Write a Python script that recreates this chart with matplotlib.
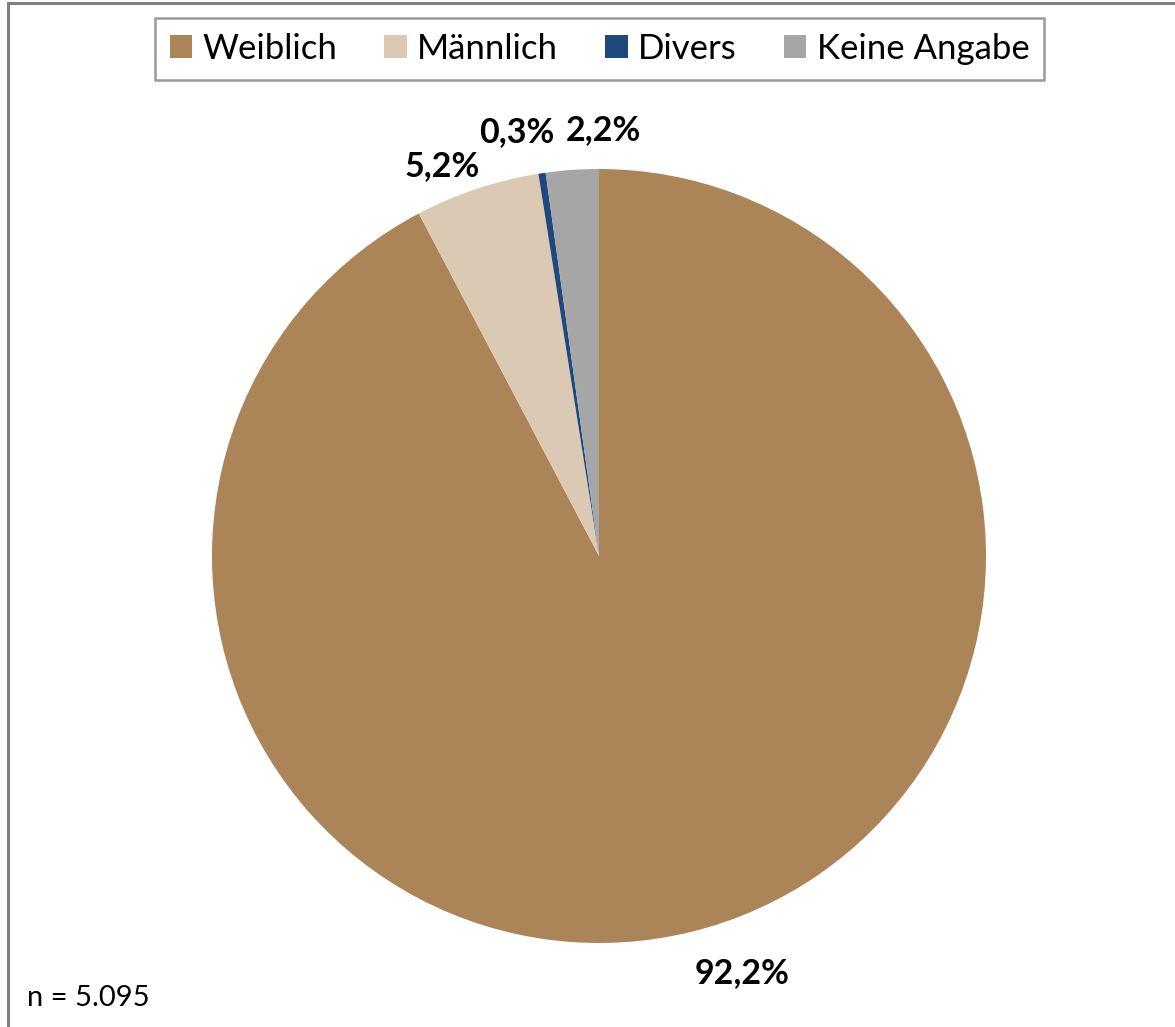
import numpy as np
import matplotlib.pyplot as plt
from matplotlib.lines import Line2D

plt.rcParams['font.family'] = ['Lato', 'DejaVu Sans']

# Gender distribution of respondents (percent)
categories = ['Weiblich', 'Männlich', 'Divers', 'Keine Angabe']
shares = [92.2, 5.2, 0.3, 2.2]
colors = ['#AB8558', '#DBC9B4', '#1F497D', '#A6A6A6']
sample_note = 'n = 5.095'

W, H = 1175, 1027
fig = plt.figure(figsize=(W / 100, H / 100), dpi=100)

# outer chart frame (left and top edges only)
fig.add_artist(Line2D([8 / W, 8 / W], [0, 1 - 3 / H], transform=fig.transFigure,
                      color='#808080', lw=2.2))
fig.add_artist(Line2D([8 / W, 1], [1 - 3 / H, 1 - 3 / H], transform=fig.transFigure,
                      color='#808080', lw=2.2))

# pie axes: centre (599, 556), radius 387 px
cx, cy, r = 599, 556, 387
ax = fig.add_axes([(cx - r) / W, (H - cy - r) / H, 2 * r / W, 2 * r / H])
wedges, _ = ax.pie(shares, colors=colors, startangle=90, counterclock=False,
                   radius=1.0, wedgeprops=dict(linewidth=0))
ax.set_xlim(-1, 1)
ax.set_ylim(-1, 1)
ax.set_aspect('equal')
ax.axis('off')

# value labels outside the slices: (angle nudge in degrees, radial distance)
label_place = [(5, 1.14), (3.5, 1.085), (2.5, 1.115), (-4.5, 1.10)]
for w, v, (nudge, dist) in zip(wedges, shares, label_place):
    mid = np.deg2rad((w.theta1 + w.theta2) / 2 + nudge)
    ax.text(dist * np.cos(mid), dist * np.sin(mid),
            f'{v:.1f}%'.replace('.', ','), ha='center', va='center',
            fontsize=24.5, fontweight='bold', color='black', clip_on=False)

leg = fig.legend(wedges, categories, loc='center', ncol=4,
                 bbox_to_anchor=(599.5 / W, 1 - 49 / H),
                 frameon=True, fancybox=False, edgecolor='#808080',
                 fontsize=25, handlelength=0.65, handleheight=0.65,
                 handletextpad=0.3, columnspacing=1.35, borderpad=0.42)
leg.get_frame().set_linewidth(1.8)

fig.text(27 / W, 1 - 998 / H, sample_note, fontsize=21, va='center', ha='left')

fig.savefig('out.png', dpi=100, facecolor='white')
